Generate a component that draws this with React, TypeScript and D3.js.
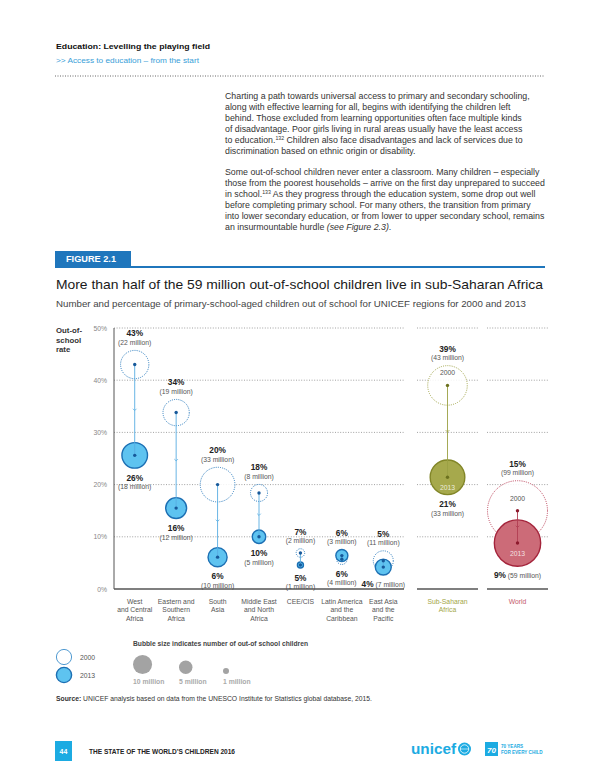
import * as d3 from "d3";
import React from "react";

// ---- data ----
const regions = [
  "West and Central Africa",
  "Eastern and Southern Africa",
  "South Asia",
  "Middle East and North Africa",
  "CEE/CIS",
  "Latin America and the Caribbean",
  "East Asia and the Pacific",
];
const regionLines = [
  ["West", "and Central", "Africa"],
  ["Eastern and", "Southern", "Africa"],
  ["South", "Asia"],
  ["Middle East", "and North", "Africa"],
  ["CEE/CIS"],
  ["Latin America", "and the", "Caribbean"],
  ["East Asia", "and the", "Pacific"],
];
const rate2000 = [43, 33.8, 20, 18.4, 6.9, 5.7, 5.4];
const rate2013 = [25.6, 15.5, 6.1, 10, 4.6, 6.4, 4.2];
const children2000 = [22, 19, 33, 8, 2, 3, 11];
const children2013 = [18, 12, 10, 5, 1, 4, 7];

const aggregates = ["Sub-Saharan Africa", "World"];
const aggLines = [["Sub-Saharan", "Africa"], ["World"]];
const aggRate2000 = [39, 15];
const aggRate2013 = [21.4, 8.8];
const aggChildren2000 = [43, 99];
const aggChildren2013 = [33, 59];

const inlineBelow = ["East Asia and the Pacific", "World"];
const yTicks = [0, 10, 20, 30, 40, 50];
const legendSizes = [10, 5, 1];
const legendYears = ["2000", "2013"];

const para1 = [
  "Charting a path towards universal access to primary and secondary schooling,",
  "along with effective learning for all, begins with identifying the children left",
  "behind. Those excluded from learning opportunities often face multiple kinds",
  "of disadvantage. Poor girls living in rural areas usually have the least access",
  "to education.^132^ Children also face disadvantages and lack of services due to",
  "discrimination based on ethnic origin or disability.",
];
const para2 = [
  "Some out-of-school children never enter a classroom. Many children – especially",
  "those from the poorest households – arrive on the first day unprepared to succeed",
  "in school.^133^ As they progress through the education system, some drop out well",
  "before completing primary school. For many others, the transition from primary",
  "into lower secondary education, or from lower to upper secondary school, remains",
  "an insurmountable hurdle ",
];

const FONT = "'Liberation Sans', Arial, Helvetica, sans-serif";

const blue = { ring: "#2779bd", fill: "#5ec3f0", stroke: "#1c6fb3", dot: "#17599a", line: "#58ade2", text: "#555" };
const olive = { ring: "#a2a64a", fill: "#a6a94c", stroke: "#828628", dot: "#6c711f", line: "#9ba043", text: "#a3a646" };
const crimson = { ring: "#bb3f57", fill: "#cc6b78", stroke: "#a4243b", dot: "#8d1a2d", line: "#b13d52", text: "#c55a6c" };

const y = d3.scaleLinear().domain([0, 50]).range([589, 328]);
const x = d3.scaleBand().domain(regions).range([114, 404]);
const xAgg = d3.scaleBand().domain(aggregates).range([417, 548]).paddingInner(9 / 70);
const r = d3.scaleSqrt().domain([0, 99]).range([0, 30]);

type Pal = typeof blue;

function renderLine(s: string) {
  const parts = s.split("^");
  return parts.map((p, i) =>
    i % 2 === 1 ? (
      <tspan key={i} fontSize={5.2} dy={-3}>
        {p}
      </tspan>
    ) : (
      <tspan key={i} dy={i > 0 ? 3 : 0}>
        {p}
      </tspan>
    )
  );
}

function Pair(props: {
  name: string;
  cx: number;
  v0: number;
  v1: number;
  n0: number;
  n1: number;
  pal: Pal;
  yearText: boolean;
}) {
  const { name, cx, v0, v1, n0, n1, pal, yearText } = props;
  const y0 = y(v0);
  const y1 = y(v1);
  const r0 = r(n0);
  const r1 = r(n1);
  const top = Math.min(y0 - r0, y1 - r1);
  const bottom = Math.max(y0 + r0, y1 + r1);
  const mid = (y0 + y1) / 2;
  const inline = inlineBelow.includes(name);
  return (
    <g>
      <circle cx={cx} cy={y0} r={r0} fill="#fff" fillOpacity={0.85} stroke={pal.ring} strokeWidth={1} strokeDasharray="1 1.2" />
      <circle cx={cx} cy={y1} r={r1} fill={pal.fill} stroke={pal.stroke} strokeWidth={1.4} />
      <line x1={cx} x2={cx} y1={y0} y2={y1} stroke={pal.line} strokeWidth={0.9} />
      {Math.abs(y1 - y0) > 20 && (
        <path d={`M${cx - 1.8},${mid - 1.2}L${cx},${mid + 0.6}L${cx + 1.8},${mid - 1.2}`} fill="none" stroke={pal.line} strokeWidth={0.8} />
      )}
      <circle cx={cx} cy={y0} r={1.7} fill={pal.dot} />
      <circle cx={cx} cy={y1} r={1.7} fill={pal.dot} />
      {yearText && (
        <>
          <text x={cx} y={y0 - 10} textAnchor="middle" fontSize={6.8} fill="#555">2000</text>
          <text x={cx} y={y1 + 12.5} textAnchor="middle" fontSize={6.8} fill="#fff" fillOpacity={0.8}>2013</text>
        </>
      )}
      <text x={cx} y={top - 14} textAnchor="middle" fontSize={8.3} fontWeight="bold" fill="#222">{`${Math.round(v0)}%`}</text>
      <text x={cx} y={top - 5.5} textAnchor="middle" fontSize={6.8} fill="#555">{`(${n0} million)`}</text>
      {inline ? (
        <text x={cx} y={bottom + 12} textAnchor="middle" fontSize={6.8} fill="#555">
          <tspan fontSize={8.3} fontWeight="bold" fill="#222">{`${Math.round(v1)}%`}</tspan>
          <tspan>{` (${n1} million)`}</tspan>
        </text>
      ) : (
        <>
          <text x={cx} y={bottom + 12.5} textAnchor="middle" fontSize={8.3} fontWeight="bold" fill="#222">{`${Math.round(v1)}%`}</text>
          <text x={cx} y={bottom + 21} textAnchor="middle" fontSize={6.8} fill="#555">{`(${n1} million)`}</text>
        </>
      )}
    </g>
  );
}

export default function App() {
  const gridSegments: [number, number][] = [
    [114, 404],
    [xAgg(aggregates[0])!, xAgg(aggregates[0])! + xAgg.bandwidth()],
    [xAgg(aggregates[1])!, xAgg(aggregates[1])! + xAgg.bandwidth()],
  ];
  const aggPal = [olive, crimson];
  const legendLeft = [133, 179, 223];

  return (
    <svg
      width={600}
      height={776}
      style={{ position: "absolute", left: 0, top: 0, background: "#fff" }}
      fontFamily={FONT}
    >
      {/* header */}
      <text x={56} y={49} fontSize={8} fontWeight="bold" fill="#111" textLength={154} lengthAdjust="spacingAndGlyphs">
        Education: Levelling the playing field
      </text>
      <text x={56} y={63} fontSize={7.5} fill="#39a0d8" textLength={143} lengthAdjust="spacingAndGlyphs">
        {">> Access to education – from the start"}
      </text>
      <line x1={55} x2={545} y1={76} y2={76} stroke="#555" strokeWidth={0.9} strokeDasharray="1 1.5" />

      {/* body text */}
      <g fontSize={8.8} fill="#333">
        {para1.map((l, i) => (
          <text key={"a" + i} x={225} y={99 + i * 10.9}>
            {renderLine(l)}
          </text>
        ))}
        {para2.map((l, i) => (
          <text key={"b" + i} x={225} y={99 + (i + 7) * 10.9}>
            {renderLine(l)}
            {i === para2.length - 1 && (
              <>
                <tspan fontStyle="italic">(see Figure 2.3)</tspan>
                <tspan>.</tspan>
              </>
            )}
          </text>
        ))}
      </g>

      {/* figure heading */}
      <rect x={55} y={251} width={76} height={16} fill="#1f76bc" />
      <line x1={55} x2={545} y1={267} y2={267} stroke="#1f76bc" strokeWidth={2} />
      <text x={66} y={262} fontSize={8.5} fontWeight="bold" fill="#fff" textLength={50} lengthAdjust="spacingAndGlyphs">
        FIGURE 2.1
      </text>
      <text x={56} y={289} fontSize={12.2} fill="#1a1a1a" textLength={487} lengthAdjust="spacingAndGlyphs">
        More than half of the 59 million out-of-school children live in sub-Saharan Africa
      </text>
      <text x={56} y={306.5} fontSize={9.2} fill="#444" textLength={470} lengthAdjust="spacingAndGlyphs">
        Number and percentage of primary-school-aged children out of school for UNICEF regions for 2000 and 2013
      </text>

      {/* axis */}
      <g fontSize={7.8} fontWeight={600} fill="#333">
        <text x={56} y={333}>Out-of-</text>
        <text x={56} y={342.5}>school</text>
        <text x={56} y={352}>rate</text>
      </g>
      {yTicks.map((t) => (
        <text key={t} x={107} y={y(t) + 2.5} textAnchor="end" fontSize={6.8} fill="#888">{`${t}%`}</text>
      ))}
      {yTicks
        .filter((t) => t > 0)
        .map((t) =>
          gridSegments.map(([a, b], j) => (
            <line key={t + "-" + j} x1={a} x2={b} y1={y(t)} y2={y(t)} stroke="#8a8a8a" strokeWidth={0.8} strokeDasharray="1 1.6" />
          ))
        )}
      {gridSegments.map(([a, b], j) => (
        <line key={"base" + j} x1={a} x2={b} y1={y(0)} y2={y(0)} stroke="#555" strokeWidth={1.3} />
      ))}
      <line x1={114} x2={114} y1={y(50)} y2={y(0)} stroke="#555" strokeWidth={1} />

      {/* regional bubbles */}
      {regions.map((name, i) => (
        <Pair
          key={name}
          name={name}
          cx={x(name)! + x.bandwidth() / 2}
          v0={rate2000[i]}
          v1={rate2013[i]}
          n0={children2000[i]}
          n1={children2013[i]}
          pal={blue}
          yearText={false}
        />
      ))}
      {aggregates.map((name, i) => (
        <Pair
          key={name}
          name={name}
          cx={xAgg(name)! + xAgg.bandwidth() / 2}
          v0={aggRate2000[i]}
          v1={aggRate2013[i]}
          n0={aggChildren2000[i]}
          n1={aggChildren2013[i]}
          pal={aggPal[i]}
          yearText={true}
        />
      ))}

      {/* category labels */}
      <g fontSize={6.8} textAnchor="middle">
        {regions.map((name, i) => (
          <text key={name} fill="#555">
            {regionLines[i].map((l, k) => (
              <tspan key={k} x={x(name)! + x.bandwidth() / 2} y={604 + k * 8.3}>{l}</tspan>
            ))}
          </text>
        ))}
        {aggregates.map((name, i) => (
          <text key={name} fill={aggPal[i].text}>
            {aggLines[i].map((l, k) => (
              <tspan key={k} x={xAgg(name)! + xAgg.bandwidth() / 2} y={604 + k * 8.3}>{l}</tspan>
            ))}
          </text>
        ))}
      </g>

      {/* legend */}
      <text x={133} y={645.5} fontSize={7.2} fontWeight={600} fill="#444" textLength={175} lengthAdjust="spacingAndGlyphs">
        Bubble size indicates number of out-of school children
      </text>
      {legendYears.map((yr, i) => (
        <g key={yr}>
          <circle
            cx={64}
            cy={657 + i * 18}
            r={7.6}
            fill={i === 0 ? "#fff" : blue.fill}
            stroke={i === 0 ? "#3d8fcc" : blue.stroke}
            strokeWidth={i === 0 ? 0.9 : 1.4}
          />
          <text x={80} y={659.5 + i * 18} fontSize={6.8} fill="#555">{yr}</text>
        </g>
      ))}
      {legendSizes.map((m, i) => (
        <g key={m}>
          <circle cx={legendLeft[i] + r(m)} cy={674 - r(m)} r={r(m)} fill="#a3a3a3" />
          <text x={legendLeft[i]} y={683.5} fontSize={6.8} fontWeight="bold" fill="#aaa">{`${m} million`}</text>
        </g>
      ))}

      {/* source */}
      <text x={56} y={701} fontSize={6.6} fill="#333" textLength={316} lengthAdjust="spacingAndGlyphs">
        <tspan fontWeight="bold">Source:</tspan>
        <tspan> UNICEF analysis based on data from the UNESCO Institute for Statistics global database, 2015.</tspan>
      </text>

      {/* footer */}
      <rect x={55} y={741} width={17} height={20} fill="#1cabe2" />
      <text x={63.5} y={753.5} textAnchor="middle" fontSize={7} fontWeight="bold" fill="#fff">44</text>
      <text x={89} y={753.5} fontSize={6.5} fontWeight="bold" fill="#222" textLength={146} lengthAdjust="spacingAndGlyphs">
        THE STATE OF THE WORLD’S CHILDREN 2016
      </text>
      <text x={411} y={753.5} fontSize={14} fontWeight="bold" fill="#1cabe2" textLength={45} lengthAdjust="spacingAndGlyphs">
        unicef
      </text>
      <circle cx={464.5} cy={749} r={6.5} fill="#1cabe2" />
      <circle cx={464.5} cy={749} r={4.2} fill="none" stroke="#fff" strokeWidth={0.8} />
      <line x1={460.3} x2={468.7} y1={749} y2={749} stroke="#fff" strokeWidth={0.6} />
      <rect x={485} y={742} width={13} height={14} fill="#1cabe2" />
      <text x={491.5} y={752.5} textAnchor="middle" fontSize={8} fontWeight="bold" fontStyle="italic" fill="#fff">70</text>
      <text x={501} y={748} fontSize={4.6} fontWeight="bold" fill="#1cabe2">70 YEARS</text>
      <text x={501} y={753.5} fontSize={4.6} fontWeight="bold" fill="#1cabe2">FOR EVERY CHILD</text>
    </svg>
  );
}
